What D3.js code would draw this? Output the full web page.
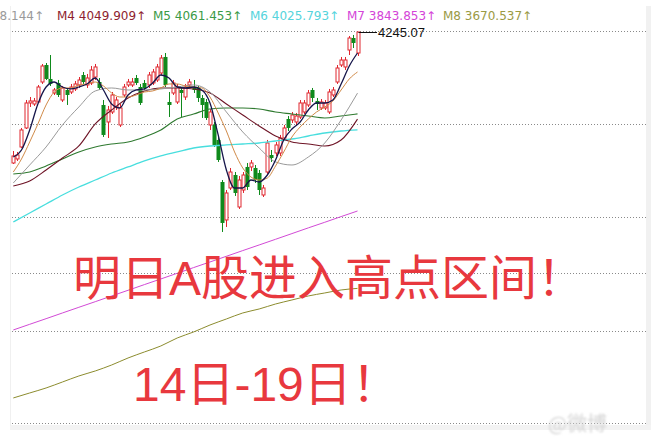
<!DOCTYPE html>
<html><head><meta charset="utf-8">
<script src="https://cdn.jsdelivr.net/npm/d3@7/dist/d3.min.js"></script>
<style>body{margin:0;background:#fff;}svg{display:block}</style>
</head><body>
<svg id="c" width="655" height="438"></svg>
<script>
// ---- data ----
const open  = [3951.5,3960.5,3987.4,4030.0,4086.0,4083.7,4088.2,4133.0,4171.1,4139.8,4108.4,4130.8,4092.7,4115.1,4110.6,4117.4,4126.3,4148.7,4126.3,4130.8,4144.2,4133.0,4081.5,4043.4,4065.8,4077.0,4036.7,4103.9,4126.3,4126.3,4142.0,4121.8,4130.8,4126.3,4130.8,4137.5,4153.2,4189.1,4088.2,4108.4,4088.2,4115.1,4099.4,4126.3,4121.8,4119.6,4097.2,4088.2,4036.7,4036.7,4003.1,3908.9,3823.8,3895.5,3924.6,3852.9,3891.0,3942.6,3942.6,3940.3,3929.1,3879.8,3931.3,3969.4,3973.9,3973.9,4007.5,4050.1,4047.9,4043.4,4054.6,4065.8,4081.5,4115.1,4090.5,4074.8,4074.8,4065.8,4103.9,4133.0,4171.1,4166.7,4204.7,4231.6,4198.0];
const high  = [3978.4,3976.2,4030.0,4092.7,4099.4,4097.2,4126.3,4173.4,4175.6,4193.5,4119.6,4137.5,4124.1,4119.6,4128.6,4135.3,4144.2,4155.4,4151.0,4168.9,4173.4,4142.0,4092.7,4079.3,4110.6,4099.4,4083.7,4128.6,4139.8,4142.0,4148.7,4128.6,4137.5,4155.4,4162.2,4173.4,4193.5,4198.0,4110.6,4137.5,4128.6,4119.6,4128.6,4139.8,4137.5,4124.1,4103.9,4094.9,4072.5,4043.4,4009.8,3913.4,3891.0,3940.3,3931.3,3922.4,3931.3,3951.5,3958.2,3947.0,3935.8,3902.2,4003.1,3980.6,3998.6,4014.3,4036.7,4056.8,4065.8,4063.6,4092.7,4092.7,4115.1,4119.6,4097.2,4094.9,4092.7,4117.4,4121.8,4171.1,4189.1,4189.1,4236.1,4238.4,4245.07];
const low   = [3949.3,3956.0,3985.1,4027.7,4077.0,4079.3,4086.0,4128.6,4137.5,4124.1,4103.9,4099.4,4088.2,4081.5,4106.1,4112.9,4119.6,4128.6,4119.6,4126.3,4137.5,4115.1,4009.8,4007.5,4061.3,4070.3,4032.2,4099.4,4121.8,4121.8,4126.3,4081.5,4115.1,4119.6,4126.3,4133.0,4148.7,4121.8,4054.6,4103.9,4083.7,4054.6,4092.7,4119.6,4108.4,4088.2,4052.4,4047.9,4025.5,3987.4,3953.8,3796.9,3808.1,3891.0,3877.6,3848.4,3884.3,3891.0,3933.6,3906.7,3879.8,3875.3,3926.9,3953.8,3967.2,3967.2,4003.1,4023.2,4041.2,4036.7,4050.1,4061.3,4077.0,4088.2,4070.3,4070.3,4070.3,4061.3,4099.4,4128.6,4166.7,4159.9,4193.5,4209.2,4191.3];
const close = [3967.2,3969.4,4025.5,4086.0,4090.5,4090.5,4121.8,4168.9,4139.8,4128.6,4115.1,4103.9,4119.6,4103.9,4121.8,4128.6,4137.5,4133.0,4142.0,4159.9,4166.7,4119.6,4014.3,4070.3,4103.9,4092.7,4074.8,4121.8,4133.0,4133.0,4130.8,4086.0,4119.6,4148.7,4155.4,4166.7,4186.8,4126.3,4081.5,4130.8,4121.8,4108.4,4121.8,4133.0,4115.1,4097.2,4081.5,4052.4,4065.8,3991.9,3958.2,3817.1,3884.3,3931.3,3884.3,3913.4,3924.6,3897.7,3951.5,3913.4,3891.0,3895.5,3996.3,3962.7,3991.9,4007.5,4030.0,4030.0,4059.1,4056.8,4086.0,4086.0,4108.4,4097.2,4083.7,4088.2,4086.0,4110.6,4115.1,4164.4,4182.3,4182.3,4231.6,4220.4,4245.07];

// moving averages, M1/M2 read every 2nd candle, M3..M8 every 4th candle
const ma1 = [3964.9,3980.6,4025.5,4083.7,4121.8,4133.0,4121.8,4117.4,4121.8,4128.6,4142.0,4115.1,4083.7,4074.8,4103.9,4115.1,4117.4,4130.8,4148.7,4142.0,4121.8,4119.6,4121.8,4115.1,4086.0,4014.3,3935.8,3895.5,3895.5,3913.4,3908.9,3924.6,3958.2,4003.1,4027.7,4043.4,4070.3,4086.0,4086.0,4092.7,4128.6,4168.9,4198.0];
const ma2 = [3931.3,3960.5,3998.6,4038.9,4081.5,4110.6,4119.6,4119.6,4126.3,4128.6,4133.0,4124.1,4108.4,4099.4,4099.4,4103.9,4110.6,4112.9,4119.6,4128.6,4128.6,4124.1,4121.8,4119.6,4099.4,4063.6,4023.2,3976.2,3940.3,3920.1,3913.4,3917.9,3944.8,3976.2,4009.8,4032.2,4050.1,4065.8,4077.0,4090.5,4115.1,4139.8,4155.4];
const ma3 = [3906.7,3947.0,3987.4,4036.7,4077.0,4112.9,4119.6,4115.1,4115.1,4117.4,4121.8,4126.3,4110.6,4065.8,4021.0,3985.1,3953.8,3947.0,3964.9,3996.3,4047.9,4108.1];
const ma4 = [3900.0,3911.2,3935.8,3962.7,3989.6,4038.9,4070.3,4097.2,4112.9,4119.6,4119.6,4117.4,4108.4,4083.7,4059.1,4034.4,4012.0,3998.6,3994.1,3989.6,4003.1,4049.9];
const ma5 = [3926.9,3931.3,3944.8,3960.5,3976.2,3987.4,3994.1,3998.6,4009.8,4025.5,4050.1,4061.3,4072.5,4074.8,4074.8,4072.5,4065.8,4061.3,4056.8,4052.4,4056.8,4061.5];
const ma6 = [3819.3,3839.5,3859.6,3879.8,3897.7,3913.4,3929.1,3942.6,3956.0,3967.2,3976.2,3985.1,3989.6,3991.9,3994.1,3996.3,4000.8,4005.3,4012.0,4018.7,4023.2,4025.8];
const ma7 = [3577.3,3590.0,3602.6,3615.4,3628.1,3640.7,3653.5,3666.2,3679.0,3691.6,3704.3,3717.1,3729.7,3742.4,3755.2,3767.8,3780.5,3793.3,3806.1,3818.6,3831.4,3843.9];
const ma8 = [3424.9,3436.1,3447.3,3460.7,3474.2,3485.4,3498.8,3514.5,3528.0,3541.4,3559.3,3572.8,3588.4,3601.9,3615.4,3624.3,3635.5,3644.5,3653.5,3660.2,3666.9,3670.5];

const legendNames  = ["M3","M4","M5","M6","M7","M8"];
const legendValues = [4108.144,4049.909,4061.453,4025.793,3843.853,3670.537];
const gridLevels   = [4247.3,4038.9,3830.5,3705.0,3575.0,3368.8];
const lastLabel    = "4245.07";
const title1 = "明日A股进入高点区间！";
const title2 = "14日-19日！";

// ---- drawing ----
const svg = d3.select("#c");
const x = d3.scaleLinear().domain([0, 84]).range([13.3, 357.5]);
const y = d3.scaleLinear().domain([3368.8, 4247.3]).range([423, 31]);

// frame / shadow
svg.append("rect").attr("x",646).attr("y",6).attr("width",5).attr("height",424).attr("fill","#f1f1f1");
svg.append("rect").attr("x",10).attr("y",425).attr("width",641).attr("height",5).attr("fill","#f3f3f3");
svg.append("line").attr("x1",10.5).attr("x2",10.5).attr("y1",6).attr("y2",426).attr("stroke","#f0f0f0");

// grid
svg.append("g").selectAll("line").data(gridLevels).join("line")
  .attr("x1",12).attr("x2",646)
  .attr("y1",d=>Math.round(y(d))+0.5).attr("y2",d=>Math.round(y(d))+0.5)
  .attr("stroke","#8a8a8a").attr("stroke-width",1).attr("stroke-dasharray","1,2");

// candles
const idx = d3.range(open.length);
const cg = svg.append("g");
const red = "#e0262e", green = "#0f8a1c";
idx.forEach(i=>{
  const up = close[i] >= open[i];
  const cx = Math.round(x(i)) + 0.5;
  const col = up ? red : green;
  const top = y(Math.max(open[i], close[i])), bot = y(Math.min(open[i], close[i]));
  cg.append("line").attr("x1",cx).attr("x2",cx).attr("y1",y(high[i])).attr("y2",top)
    .attr("stroke",col).attr("stroke-width",1);
  cg.append("line").attr("x1",cx).attr("x2",cx).attr("y1",bot).attr("y2",y(low[i]))
    .attr("stroke",col).attr("stroke-width",1);
  if (up) {
    cg.append("rect").attr("x",cx-1.5).attr("y",top).attr("width",3).attr("height",Math.max(bot-top,1))
      .attr("fill","#fff").attr("stroke",col).attr("stroke-width",1);
  } else {
    cg.append("rect").attr("x",cx-2).attr("y",top).attr("width",4).attr("height",Math.max(bot-top,1.2))
      .attr("fill",col);
  }
});

// moving averages
const lines = [
  {d:ma8, step:4, c:"#8c8c2e", w:1},
  {d:ma7, step:4, c:"#d24ad6", w:1},
  {d:ma6, step:4, c:"#48dede", w:1.3},
  {d:ma5, step:4, c:"#2f7a30", w:1.1},
  {d:ma4, step:4, c:"#6e1426", w:1.1},
  {d:ma3, step:4, c:"#9a9a9a", w:1},
  {d:ma2, step:2, c:"#d08a48", w:1},
  {d:ma1, step:2, c:"#15154a", w:1.3}
];
const gen = d3.line().curve(d3.curveMonotoneX);
lines.forEach(L=>{
  svg.append("path").attr("d", gen(L.d.map((v,k)=>[x(k*L.step), y(v)])))
    .attr("fill","none").attr("stroke",L.c).attr("stroke-width",L.w);
});

// last price marker
const li = open.length-1;
svg.append("line").attr("x1",x(li)+1).attr("x2",377).attr("y1",Math.round(y(high[li]))+0.5).attr("y2",Math.round(y(high[li]))+0.5)
  .attr("stroke","#111").attr("stroke-width",1);
svg.append("text").attr("x",378).attr("y",y(high[li])+5).text(lastLabel)
  .attr("font-family","Liberation Sans, Arial, sans-serif").attr("font-size",13).attr("fill","#111");

// legend
const legColors = ["#9a9a9a","#8e1e30","#3a9a46","#55d4dc","#d444d8","#9a9a44"];
const legX = [44,57,153,250,347,443];
legendNames.forEach((n,k)=>{
  svg.append("text").attr("x",legX[k]).attr("y",20)
    .attr("text-anchor", k===0 ? "end" : "start")
    .attr("font-family","DejaVu Sans, sans-serif").attr("font-size",12)
    .attr("fill",legColors[k]).text(n+" "+legendValues[k].toFixed(3)+"↑");
});

// big titles
svg.append("text").attr("x",73).attr("y",295).text(title1)
  .attr("font-family","Liberation Sans, Noto Sans CJK SC, sans-serif").attr("font-size",48).attr("fill","#e8383e");
svg.append("text").attr("x",133).attr("y",401).text(title2)
  .attr("font-family","Liberation Sans, Noto Sans CJK SC, sans-serif").attr("font-size",48).attr("fill","#e8383e");

// faint watermark
const defs = svg.append("defs");
defs.append("filter").attr("id","bl").append("feGaussianBlur").attr("stdDeviation",1.3);
svg.append("text").attr("x",548).attr("y",431).text("@微博")
  .attr("font-family","Noto Sans CJK SC, sans-serif").attr("font-size",20).attr("fill","#d6d6d6")
  .attr("filter","url(#bl)");
</script>
</body></html>
